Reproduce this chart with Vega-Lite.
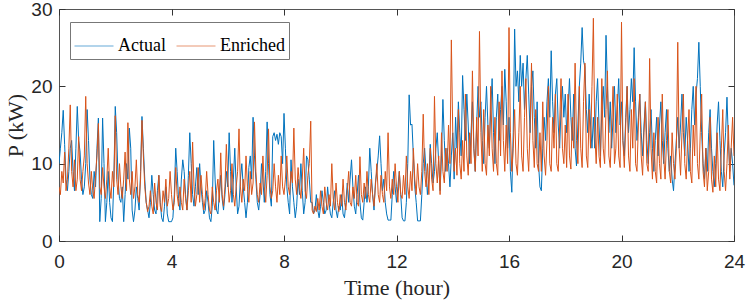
{
"$schema":"https://vega.github.io/schema/vega-lite/v6.json",
"width":675,"height":232,
"autosize":"none",
"padding":{"left":59,"top":9,"right":13,"bottom":65},
"background":"white",
"config":{
 "view":{"stroke":"#555","strokeWidth":1},
 "axis":{"grid":false,"domain":false,"labelFlush":false,"tickColor":"#333","tickSize":-6,"tickWidth":1,"labelColor":"#262626","labelFont":"Liberation Sans","labelFontSize":19,"titleFont":"Liberation Serif","titleFontSize":22,"titleFontWeight":"normal","titleColor":"#262626"}
},
"data":{"values":[
{"t":0,"a":10,"e":7},{"t":0.05,"a":12,"e":6},{"t":0.1,"a":14,"e":9},{"t":0.15,"a":16.9,"e":7.5},{"t":0.2,"a":12.5,"e":11.5},{"t":0.25,"a":8,"e":6.5},{"t":0.3,"a":6.5,"e":8},{"t":0.35,"a":9,"e":12},{"t":0.4,"a":12,"e":17.6},{"t":0.45,"a":13,"e":9},{"t":0.5,"a":9,"e":7},{"t":0.55,"a":6.5,"e":10.5},{"t":0.6,"a":12,"e":6.5},{"t":0.65,"a":17.4,"e":8},{"t":0.7,"a":13,"e":13.5},{"t":0.75,"a":11.5,"e":8},{"t":0.8,"a":8,"e":6.5},{"t":0.85,"a":6,"e":9},{"t":0.9,"a":7,"e":11},{"t":0.95,"a":10,"e":18.7},
{"t":1,"a":17,"e":10},{"t":1.05,"a":13,"e":7.5},{"t":1.1,"a":8,"e":6},{"t":1.15,"a":6,"e":9},{"t":1.2,"a":5.5,"e":6.5},{"t":1.25,"a":9,"e":5.5},{"t":1.3,"a":7,"e":8.5},{"t":1.35,"a":12,"e":11},{"t":1.4,"a":15.9,"e":15.2},{"t":1.45,"a":2.5,"e":7},{"t":1.5,"a":5.5,"e":6},{"t":1.55,"a":15.9,"e":9.5},{"t":1.6,"a":10,"e":7},{"t":1.65,"a":2.5,"e":5.5},{"t":1.7,"a":5,"e":8},{"t":1.75,"a":9,"e":12},{"t":1.8,"a":5,"e":7},{"t":1.85,"a":3,"e":5.5},{"t":1.9,"a":2.5,"e":9},{"t":1.95,"a":8,"e":7},
{"t":2,"a":17.4,"e":16.2},{"t":2.05,"a":14,"e":8},{"t":2.1,"a":8,"e":6},{"t":2.15,"a":5.5,"e":10},{"t":2.2,"a":5,"e":7},{"t":2.25,"a":7,"e":5.5},{"t":2.3,"a":2.5,"e":8},{"t":2.35,"a":6,"e":11.5},{"t":2.4,"a":10,"e":6.5},{"t":2.45,"a":8,"e":15.3},{"t":2.5,"a":14.6,"e":8},{"t":2.55,"a":12,"e":6},{"t":2.6,"a":4,"e":9},{"t":2.65,"a":2.5,"e":5.5},{"t":2.7,"a":4,"e":7},{"t":2.75,"a":7,"e":10.5},{"t":2.8,"a":5.5,"e":6},{"t":2.85,"a":4,"e":5},{"t":2.9,"a":9,"e":8},{"t":2.95,"a":16.1,"e":15.6},
{"t":3,"a":12,"e":11},{"t":3.05,"a":8,"e":7},{"t":3.1,"a":5,"e":5},{"t":3.15,"a":4,"e":3.8},{"t":3.2,"a":3,"e":4.5},{"t":3.25,"a":5,"e":6.5},{"t":3.3,"a":8.5,"e":4.5},{"t":3.35,"a":6,"e":3.5},{"t":3.4,"a":4,"e":7.5},{"t":3.45,"a":3.5,"e":5},{"t":3.5,"a":6.5,"e":4},{"t":3.55,"a":8.5,"e":8.5},{"t":3.6,"a":5,"e":4.5},{"t":3.65,"a":3,"e":3.8},{"t":3.7,"a":2.5,"e":6.5},{"t":3.75,"a":4.5,"e":5},{"t":3.8,"a":7,"e":8},{"t":3.85,"a":3.5,"e":4.5},{"t":3.9,"a":2.5,"e":5.5},{"t":3.95,"a":2.5,"e":9},
{"t":4,"a":2.5,"e":6},{"t":4.05,"a":3,"e":4},{"t":4.1,"a":6,"e":5},{"t":4.15,"a":12,"e":9.5},{"t":4.2,"a":9,"e":6},{"t":4.25,"a":5.5,"e":4.5},{"t":4.3,"a":4,"e":7},{"t":4.35,"a":8,"e":5},{"t":4.4,"a":10.5,"e":4},{"t":4.45,"a":9,"e":8},{"t":4.5,"a":6,"e":5.5},{"t":4.55,"a":4,"e":4},{"t":4.6,"a":8.5,"e":6.5},{"t":4.65,"a":14,"e":9},{"t":4.7,"a":10,"e":5},{"t":4.75,"a":6,"e":12.8},{"t":4.8,"a":4.5,"e":7},{"t":4.85,"a":7,"e":4.5},{"t":4.9,"a":9.5,"e":6},{"t":4.95,"a":6,"e":9.5},
{"t":5,"a":10,"e":5},{"t":5.05,"a":7,"e":8.5},{"t":5.1,"a":5,"e":6},{"t":5.15,"a":3.5,"e":4},{"t":5.2,"a":4,"e":5.5},{"t":5.25,"a":6.5,"e":9},{"t":5.3,"a":5,"e":6},{"t":5.35,"a":3,"e":4},{"t":5.4,"a":2.5,"e":3.5},{"t":5.45,"a":4.5,"e":7},{"t":5.5,"a":13,"e":5},{"t":5.55,"a":8,"e":4},{"t":5.6,"a":4,"e":6.5},{"t":5.65,"a":3.5,"e":8},{"t":5.7,"a":6,"e":5},{"t":5.75,"a":8.5,"e":11.4},{"t":5.8,"a":5.5,"e":6},{"t":5.85,"a":4,"e":4.5},{"t":5.9,"a":6,"e":7},{"t":5.95,"a":9,"e":12.5},
{"t":6,"a":7,"e":8},{"t":6.05,"a":14,"e":5},{"t":6.1,"a":9,"e":6.5},{"t":6.15,"a":5,"e":10},{"t":6.2,"a":8,"e":6},{"t":6.25,"a":12,"e":4.5},{"t":6.3,"a":7,"e":7},{"t":6.35,"a":3.5,"e":9},{"t":6.4,"a":4.5,"e":14.5},{"t":6.45,"a":8,"e":7},{"t":6.5,"a":10,"e":5},{"t":6.55,"a":7,"e":8},{"t":6.6,"a":5,"e":6.5},{"t":6.65,"a":3,"e":11},{"t":6.7,"a":5,"e":7},{"t":6.75,"a":9.5,"e":5},{"t":6.8,"a":11,"e":9},{"t":6.85,"a":8,"e":6},{"t":6.9,"a":16,"e":7.5},{"t":6.95,"a":11,"e":15.4},
{"t":7,"a":8,"e":9},{"t":7.05,"a":5,"e":6},{"t":7.1,"a":4,"e":5},{"t":7.15,"a":6,"e":7.5},{"t":7.2,"a":10,"e":6},{"t":7.25,"a":8,"e":11},{"t":7.3,"a":5,"e":7},{"t":7.35,"a":9,"e":5},{"t":7.4,"a":15.4,"e":8.5},{"t":7.45,"a":10,"e":14.5},{"t":7.5,"a":6,"e":7},{"t":7.55,"a":4.5,"e":5.5},{"t":7.6,"a":13.5,"e":6.5},{"t":7.65,"a":14,"e":10},{"t":7.7,"a":13,"e":7},{"t":7.75,"a":13.8,"e":5},{"t":7.8,"a":12.5,"e":8.5},{"t":7.85,"a":14,"e":6},{"t":7.9,"a":13.5,"e":11},{"t":7.95,"a":10,"e":7},
{"t":8,"a":16.5,"e":6},{"t":8.05,"a":12,"e":8},{"t":8.1,"a":7,"e":11},{"t":8.15,"a":5,"e":7},{"t":8.2,"a":3.5,"e":6},{"t":8.25,"a":10.5,"e":9},{"t":8.3,"a":7,"e":7.5},{"t":8.35,"a":5,"e":14.6},{"t":8.4,"a":3,"e":8},{"t":8.45,"a":4.5,"e":6},{"t":8.5,"a":8,"e":9.5},{"t":8.55,"a":6,"e":7},{"t":8.6,"a":10,"e":5.5},{"t":8.65,"a":6.5,"e":8},{"t":8.7,"a":3.5,"e":12},{"t":8.75,"a":5,"e":6.5},{"t":8.8,"a":11,"e":5.5},{"t":8.85,"a":10.5,"e":8.5},{"t":8.9,"a":8,"e":10},{"t":8.95,"a":5,"e":15.5},
{"t":9,"a":5,"e":4},{"t":9.05,"a":3.5,"e":3.5},{"t":9.1,"a":4,"e":4.5},{"t":9.15,"a":6,"e":3.8},{"t":9.2,"a":4,"e":5.5},{"t":9.25,"a":3,"e":4},{"t":9.3,"a":4.5,"e":6.5},{"t":9.35,"a":6.5,"e":4.5},{"t":9.4,"a":5,"e":3.5},{"t":9.45,"a":3.5,"e":7},{"t":9.5,"a":4,"e":5},{"t":9.55,"a":7,"e":4},{"t":9.6,"a":5,"e":6},{"t":9.65,"a":3.5,"e":4.5},{"t":9.7,"a":3,"e":10},{"t":9.75,"a":5,"e":5.5},{"t":9.8,"a":6.5,"e":4},{"t":9.85,"a":4,"e":7.5},{"t":9.9,"a":3,"e":5},{"t":9.95,"a":4.5,"e":3.8},
{"t":10,"a":4,"e":6},{"t":10.05,"a":6,"e":4.5},{"t":10.1,"a":3.5,"e":8},{"t":10.15,"a":3,"e":5},{"t":10.2,"a":5,"e":4},{"t":10.25,"a":7.5,"e":6.5},{"t":10.3,"a":5,"e":9},{"t":10.35,"a":8,"e":5},{"t":10.4,"a":10.5,"e":4.5},{"t":10.45,"a":7,"e":7},{"t":10.5,"a":4.5,"e":5.5},{"t":10.55,"a":3.5,"e":8.5},{"t":10.6,"a":6,"e":5},{"t":10.65,"a":8.5,"e":4.5},{"t":10.7,"a":5,"e":10.9},{"t":10.75,"a":3,"e":6},{"t":10.8,"a":2.7,"e":5},{"t":10.85,"a":5,"e":7.5},{"t":10.9,"a":7,"e":5.5},{"t":10.95,"a":5,"e":9},
{"t":11,"a":7,"e":6},{"t":11.05,"a":12,"e":5},{"t":11.1,"a":9,"e":8},{"t":11.15,"a":6,"e":6},{"t":11.2,"a":4,"e":4.5},{"t":11.25,"a":7.5,"e":7},{"t":11.3,"a":9,"e":10},{"t":11.35,"a":11,"e":6},{"t":11.4,"a":13.6,"e":5},{"t":11.45,"a":10,"e":8.5},{"t":11.5,"a":6.5,"e":6},{"t":11.55,"a":8,"e":5},{"t":11.6,"a":5,"e":9},{"t":11.65,"a":3.5,"e":6.5},{"t":11.7,"a":2.7,"e":14},{"t":11.75,"a":2.7,"e":7},{"t":11.8,"a":2.7,"e":5.5},{"t":11.85,"a":6,"e":8},{"t":11.9,"a":9,"e":6},{"t":11.95,"a":7,"e":10},
{"t":12,"a":5,"e":7},{"t":12.05,"a":7,"e":5},{"t":12.1,"a":9,"e":9},{"t":12.15,"a":6,"e":6},{"t":12.2,"a":3,"e":5.5},{"t":12.25,"a":2.6,"e":8.5},{"t":12.3,"a":2.6,"e":6},{"t":12.35,"a":5,"e":11},{"t":12.4,"a":10,"e":7},{"t":12.45,"a":18.9,"e":5.5},{"t":12.5,"a":15,"e":9},{"t":12.55,"a":15.1,"e":6.5},{"t":12.6,"a":11,"e":12},{"t":12.65,"a":7,"e":8},{"t":12.7,"a":5,"e":6},{"t":12.75,"a":2.6,"e":10},{"t":12.8,"a":2.6,"e":7},{"t":12.85,"a":2.6,"e":6},{"t":12.9,"a":6,"e":9},{"t":12.95,"a":10,"e":16.4},
{"t":13,"a":12,"e":9},{"t":13.05,"a":9,"e":7},{"t":13.1,"a":6,"e":10},{"t":13.15,"a":8,"e":6},{"t":13.2,"a":12.5,"e":12},{"t":13.25,"a":10,"e":8},{"t":13.3,"a":7.5,"e":6.5},{"t":13.35,"a":9,"e":18.7},{"t":13.4,"a":12,"e":10},{"t":13.45,"a":14,"e":7.5},{"t":13.5,"a":10,"e":11},{"t":13.55,"a":6.5,"e":6},{"t":13.6,"a":11,"e":14},{"t":13.65,"a":18.3,"e":9},{"t":13.7,"a":13,"e":7.5},{"t":13.75,"a":9,"e":12},{"t":13.8,"a":12,"e":9},{"t":13.85,"a":10,"e":15},{"t":13.9,"a":7,"e":10},{"t":13.95,"a":11,"e":26},
{"t":14,"a":14,"e":14},{"t":14.05,"a":8,"e":9},{"t":14.1,"a":16,"e":12},{"t":14.15,"a":12,"e":8.5},{"t":14.2,"a":18,"e":17},{"t":14.25,"a":14,"e":10},{"t":14.3,"a":11,"e":8},{"t":14.35,"a":21.4,"e":13},{"t":14.4,"a":17,"e":9},{"t":14.45,"a":13,"e":19},{"t":14.5,"a":19,"e":11},{"t":14.55,"a":15,"e":8.5},{"t":14.6,"a":10,"e":14},{"t":14.65,"a":14,"e":10},{"t":14.7,"a":18,"e":22},{"t":14.75,"a":12,"e":12},{"t":14.8,"a":9,"e":9},{"t":14.85,"a":15,"e":16},{"t":14.9,"a":20,"e":11},{"t":14.95,"a":16,"e":27.1},
{"t":15,"a":18,"e":14},{"t":15.05,"a":13,"e":9},{"t":15.1,"a":10,"e":17},{"t":15.15,"a":16,"e":10},{"t":15.2,"a":20,"e":8.5},{"t":15.25,"a":15,"e":15},{"t":15.3,"a":12,"e":11},{"t":15.35,"a":17,"e":20},{"t":15.4,"a":21,"e":12},{"t":15.45,"a":14,"e":9},{"t":15.5,"a":10,"e":16},{"t":15.55,"a":16,"e":10},{"t":15.6,"a":19,"e":8.5},{"t":15.65,"a":13,"e":18},{"t":15.7,"a":17,"e":11},{"t":15.75,"a":20,"e":22},{"t":15.8,"a":15,"e":13},{"t":15.85,"a":22.2,"e":9},{"t":15.9,"a":18,"e":15},{"t":15.95,"a":12,"e":10},
{"t":16,"a":16,"e":27.6},{"t":16.05,"a":9,"e":14},{"t":16.1,"a":6.3,"e":9},{"t":16.15,"a":14,"e":12},{"t":16.2,"a":27.4,"e":17},{"t":16.25,"a":20,"e":10},{"t":16.3,"a":22,"e":8.5},{"t":16.35,"a":18,"e":14},{"t":16.4,"a":24,"e":20},{"t":16.45,"a":20,"e":11},{"t":16.5,"a":23,"e":9},{"t":16.55,"a":17,"e":16},{"t":16.6,"a":21,"e":21},{"t":16.65,"a":24,"e":12},{"t":16.7,"a":19,"e":9},{"t":16.75,"a":14,"e":15},{"t":16.8,"a":20,"e":23},{"t":16.85,"a":22,"e":13},{"t":16.9,"a":16,"e":9.5},{"t":16.95,"a":12,"e":17},
{"t":17,"a":18,"e":10},{"t":17.05,"a":10,"e":9},{"t":17.1,"a":7,"e":14},{"t":17.15,"a":6.5,"e":9},{"t":17.2,"a":12,"e":18},{"t":17.25,"a":16,"e":11},{"t":17.3,"a":13,"e":8.5},{"t":17.35,"a":18,"e":13},{"t":17.4,"a":21,"e":20},{"t":17.45,"a":16,"e":10},{"t":17.5,"a":24.6,"e":9},{"t":17.55,"a":18,"e":16},{"t":17.6,"a":14,"e":12},{"t":17.65,"a":19,"e":19},{"t":17.7,"a":21,"e":10},{"t":17.75,"a":15,"e":9},{"t":17.8,"a":12,"e":15},{"t":17.85,"a":17,"e":21},{"t":17.9,"a":20,"e":12},{"t":17.95,"a":16,"e":10},
{"t":18,"a":19,"e":15},{"t":18.05,"a":14,"e":9.5},{"t":18.1,"a":17,"e":19},{"t":18.15,"a":21,"e":11},{"t":18.2,"a":16,"e":9.3},{"t":18.25,"a":13,"e":16},{"t":18.3,"a":19,"e":12},{"t":18.35,"a":12,"e":23},{"t":18.4,"a":9.7,"e":13},{"t":18.45,"a":15,"e":10},{"t":18.5,"a":20,"e":20},{"t":18.55,"a":23,"e":12},{"t":18.6,"a":27.6,"e":9.5},{"t":18.65,"a":23.3,"e":18},{"t":18.7,"a":22.5,"e":23},{"t":18.75,"a":17,"e":11},{"t":18.8,"a":14,"e":9.5},{"t":18.85,"a":19,"e":17},{"t":18.9,"a":15,"e":12},{"t":18.95,"a":12,"e":20},
{"t":19,"a":16,"e":28.8},{"t":19.05,"a":12,"e":14},{"t":19.1,"a":18,"e":10},{"t":19.15,"a":21,"e":16},{"t":19.2,"a":15,"e":11},{"t":19.25,"a":11,"e":9.5},{"t":19.3,"a":17,"e":21},{"t":19.35,"a":20,"e":12},{"t":19.4,"a":16,"e":10},{"t":19.45,"a":26.6,"e":17},{"t":19.5,"a":20,"e":22},{"t":19.55,"a":14,"e":11},{"t":19.6,"a":18,"e":9.5},{"t":19.65,"a":12,"e":15},{"t":19.7,"a":16,"e":20},{"t":19.75,"a":20,"e":10},{"t":19.8,"a":14,"e":12},{"t":19.85,"a":17,"e":19},{"t":19.9,"a":21,"e":11},{"t":19.95,"a":15,"e":9.5},
{"t":20,"a":18,"e":28.3},{"t":20.05,"a":13,"e":13},{"t":20.1,"a":11,"e":9.5},{"t":20.15,"a":16,"e":15},{"t":20.2,"a":20,"e":20},{"t":20.25,"a":14,"e":11},{"t":20.3,"a":17,"e":9},{"t":20.35,"a":21,"e":17},{"t":20.4,"a":18,"e":12},{"t":20.45,"a":25,"e":21},{"t":20.5,"a":18,"e":10},{"t":20.55,"a":13,"e":9},{"t":20.6,"a":16,"e":15},{"t":20.65,"a":19,"e":19},{"t":20.7,"a":14,"e":11},{"t":20.75,"a":11,"e":8.5},{"t":20.8,"a":15,"e":14},{"t":20.85,"a":18,"e":18},{"t":20.9,"a":13,"e":10},{"t":20.95,"a":10,"e":9},
{"t":21,"a":14,"e":23.6},{"t":21.05,"a":17,"e":12},{"t":21.1,"a":12,"e":8},{"t":21.15,"a":9,"e":14},{"t":21.2,"a":13,"e":9},{"t":21.25,"a":16,"e":7.5},{"t":21.3,"a":11,"e":16},{"t":21.35,"a":15,"e":10},{"t":21.4,"a":18,"e":8},{"t":21.45,"a":13,"e":19},{"t":21.5,"a":10,"e":11},{"t":21.55,"a":14,"e":8},{"t":21.6,"a":17,"e":13},{"t":21.65,"a":12,"e":17},{"t":21.7,"a":9,"e":9},{"t":21.75,"a":11,"e":7.5},{"t":21.8,"a":8,"e":14},{"t":21.85,"a":6.5,"e":10},{"t":21.9,"a":10,"e":8},{"t":21.95,"a":13,"e":12},
{"t":22,"a":16,"e":25.7},{"t":22.05,"a":12,"e":12},{"t":22.1,"a":15,"e":8.5},{"t":22.15,"a":19,"e":14},{"t":22.2,"a":14,"e":19},{"t":22.25,"a":11,"e":10},{"t":22.3,"a":16,"e":8},{"t":22.35,"a":13,"e":13},{"t":22.4,"a":9,"e":17},{"t":22.45,"a":12,"e":9},{"t":22.5,"a":17,"e":7.5},{"t":22.55,"a":20,"e":15},{"t":22.6,"a":15,"e":11},{"t":22.65,"a":19,"e":20},{"t":22.7,"a":21,"e":10},{"t":22.75,"a":25.7,"e":8},{"t":22.8,"a":20,"e":14},{"t":22.85,"a":14,"e":19},{"t":22.9,"a":10,"e":9},{"t":22.95,"a":8,"e":7},
{"t":23,"a":12,"e":12},{"t":23.05,"a":9,"e":6.5},{"t":23.1,"a":14,"e":9},{"t":23.15,"a":17,"e":16},{"t":23.2,"a":12,"e":8},{"t":23.25,"a":9,"e":6.3},{"t":23.3,"a":7,"e":11},{"t":23.35,"a":10,"e":7},{"t":23.4,"a":15,"e":14},{"t":23.45,"a":18,"e":8},{"t":23.5,"a":13,"e":6.5},{"t":23.55,"a":9,"e":12},{"t":23.6,"a":7,"e":17},{"t":23.65,"a":11,"e":9},{"t":23.7,"a":14,"e":6.5},{"t":23.75,"a":18.6,"e":10},{"t":23.8,"a":13,"e":15},{"t":23.85,"a":9,"e":8},{"t":23.9,"a":12,"e":12},{"t":23.95,"a":10,"e":16},{"t":24,"a":7.2,"e":11}
]},
"transform":[{"fold":["a","e"],"as":["s","P"]}],
"layer":[
 {"mark":{"type":"line","strokeWidth":1,"clip":true},
  "encoding":{
   "x":{"field":"t","type":"quantitative","scale":{"domain":[0,24],"nice":false},
        "axis":{"values":[0,4,8,12,16,20,24],"title":"Time (hour)","labelPadding":17,"titlePadding":6}},
   "y":{"field":"P","type":"quantitative","scale":{"domain":[0,30],"nice":false},
        "axis":{"values":[0,10,20,30],"title":"P (kW)","labelPadding":13,"titlePadding":3}},
   "color":{"field":"s","type":"nominal","scale":{"domain":["a","e"],"range":["#0072BD","#D95319"]},
     "legend":{"title":null,"orient":"none","legendX":11,"legendY":13,"direction":"horizontal",
       "symbolType":"stroke","symbolSize":1521,"symbolStrokeWidth":1,"symbolOpacity":0.6,
       "labelFont":"Liberation Serif","labelFontSize":18,"labelColor":"black","labelOffset":4,
       "columnPadding":8,"padding":4,"strokeColor":"#777","fillColor":"white",
       "labelExpr":"datum.label == 'a' ? 'Actual' : 'Enriched'"}}
  }},
 {"mark":{"type":"line","opacity":0},
  "encoding":{
   "x":{"field":"t","type":"quantitative","axis":{"orient":"top","values":[0,4,8,12,16,20,24],"labels":false,"title":null}},
   "y":{"field":"P","type":"quantitative","axis":{"orient":"right","values":[0,10,20,30],"labels":false,"title":null}},
   "detail":{"field":"s"}
  }}
],
"resolve":{"axis":{"x":"independent","y":"independent"}}
}
